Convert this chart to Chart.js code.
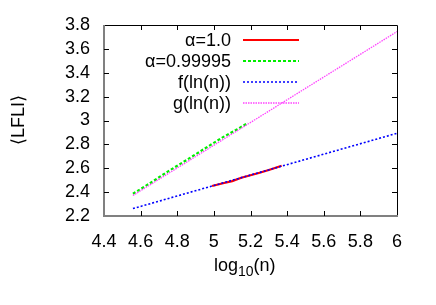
<!DOCTYPE html>
<html lang="en">
<head>
    <meta charset="UTF-8">
    <title>LFLI vs log10(n)</title>
    <script src="https://cdn.jsdelivr.net/npm/chart.js"></script>
    <style>
        body { margin: 0; background: #fff; }
        .chart-container { width: 436px; height: 305px; }
    </style>
</head>
<body>

<div class="chart-container">
    <canvas id="lfliChart" width="436" height="305"></canvas>
</div>

<script>
    // series: [log10(n), <LFLI>]
    const alpha1X = [4.99, 5.05, 5.10, 5.15, 5.20, 5.25, 5.30, 5.37];
    const alpha1Y = [2.451, 2.474, 2.492, 2.520, 2.541, 2.562, 2.585, 2.621];
    const alpha2X = [4.558, 4.65, 4.75, 4.85, 4.95, 5.05, 5.12, 5.186];
    const alpha2Y = [2.386, 2.474, 2.574, 2.668, 2.765, 2.861, 2.920, 2.979];
    const fX = [4.558, 6.0];
    const fY = [2.262, 2.893];
    const gX = [4.558, 6.0];
    const gY = [2.372, 3.745];

    const xTicks = [4.4, 4.6, 4.8, 5, 5.2, 5.4, 5.6, 5.8, 6];
    const yTicks = [2.2, 2.4, 2.6, 2.8, 3, 3.2, 3.4, 3.6, 3.8];

    const seriesLabels = ['\u03b1=1.0', '\u03b1=0.99995', 'f(ln(n))', 'g(ln(n))'];

    const FONT = '"Liberation Sans", Arial, sans-serif';
    const pts = (xs, ys) => xs.map((x, i) => ({ x, y: ys[i] }));

    const styles = [
        { color: '#ff0000', width: 2.2, dash: [] },
        { color: '#00ee00', width: 2.2, dash: [3, 2] },
        { color: '#0000ff', width: 1.6, dash: [2, 2] },
        { color: '#ff44ff', width: 1.3, dash: [1.5, 1] }
    ];

    const data = [pts(alpha1X, alpha1Y), pts(alpha2X, alpha2Y), pts(fX, fY), pts(gX, gY)];

    // frame, inward ticks, key inside the plot and axis titles
    const framePlugin = {
        id: 'frame',
        afterDatasetsDraw(chart) {
            const c = chart.ctx;
            const a = chart.chartArea;
            const xs = chart.scales.x;
            const ys = chart.scales.y;
            c.save();
            c.setLineDash([]);
            // top/right border
            c.strokeStyle = '#000';
            c.lineWidth = 1;
            c.beginPath();
            c.moveTo(a.left, a.top + 0.5);
            c.lineTo(a.right + 0.5, a.top + 0.5);
            c.lineTo(a.right + 0.5, a.bottom);
            c.stroke();
            // left/bottom border
            c.strokeStyle = '#808080';
            c.lineWidth = 2;
            c.beginPath();
            c.moveTo(a.left, a.top);
            c.lineTo(a.left, a.bottom);
            c.lineTo(a.right + 1, a.bottom);
            c.stroke();
            // ticks
            c.strokeStyle = '#000';
            c.lineWidth = 1;
            c.beginPath();
            xTicks.forEach(v => {
                const px = Math.round(xs.getPixelForValue(v)) + 0.5;
                if (v === xTicks[0] || v === xTicks[xTicks.length - 1]) return;
                c.moveTo(px, a.bottom); c.lineTo(px, a.bottom - 5);
                c.moveTo(px, a.top); c.lineTo(px, a.top + 5);
            });
            yTicks.forEach(v => {
                const py = Math.round(ys.getPixelForValue(v)) + 0.5;
                if (v === yTicks[0] || v === yTicks[yTicks.length - 1]) return;
                c.moveTo(a.left, py); c.lineTo(a.left + 5, py);
                c.moveTo(a.right, py); c.lineTo(a.right - 5, py);
            });
            c.stroke();

            // key
            c.font = '18px ' + FONT;
            c.fillStyle = '#000';
            c.textAlign = 'right';
            c.textBaseline = 'middle';
            const keyY = [40, 61, 82, 103];
            seriesLabels.forEach((lab, i) => {
                c.fillText(lab, 231, keyY[i] + 1);
                const s = styles[i];
                c.strokeStyle = s.color;
                c.lineWidth = s.width;
                c.setLineDash(s.dash);
                c.beginPath();
                c.moveTo(243, keyY[i]);
                c.lineTo(299, keyY[i]);
                c.stroke();
            });
            c.setLineDash([]);

            // y title
            c.save();
            c.translate(19, 120);
            c.rotate(-Math.PI / 2);
            c.textAlign = 'center';
            c.fillText('\u27e8LFLI\u27e9', 0, 0);
            c.restore();

            // x title with subscript
            c.textAlign = 'left';
            c.textBaseline = 'alphabetic';
            const base = 271;
            let x = 214;
            c.font = '18px ' + FONT;
            c.fillText('log', x, base);
            x += c.measureText('log').width;
            c.font = '14px ' + FONT;
            c.fillText('10', x, base + 5);
            x += c.measureText('10').width;
            c.font = '18px ' + FONT;
            c.fillText('(n)', x, base);
            c.restore();
        }
    };

    const ctx = document.getElementById('lfliChart').getContext('2d');
    new Chart(ctx, {
        type: 'scatter',
        data: {
            datasets: data.map((d, i) => ({
                label: seriesLabels[i],
                data: d,
                showLine: true,
                pointRadius: 0,
                borderColor: styles[i].color,
                borderWidth: styles[i].width,
                borderDash: styles[i].dash,
                order: 4 - i
            }))
        },
        options: {
            responsive: false,
            animation: false,
            layout: { padding: { top: 25, right: 39, left: 0, bottom: 0 } },
            plugins: { legend: { display: false }, tooltip: { enabled: false } },
            scales: {
                x: {
                    type: 'linear',
                    min: 4.4, max: 6,
                    afterBuildTicks: s => { s.ticks = xTicks.map(v => ({ value: v })); },
                    afterFit: s => { s.height = 89; },
                    grid: { display: false },
                    border: { display: false },
                    ticks: {
                        color: '#000',
                        font: { family: FONT, size: 18 },
                        padding: 7,
                        maxRotation: 0,
                        autoSkip: false,
                        callback: v => String(v)
                    }
                },
                y: {
                    min: 2.2, max: 3.8,
                    afterBuildTicks: s => { s.ticks = yTicks.map(v => ({ value: v })); },
                    afterFit: s => { s.width = 104; },
                    grid: { display: false },
                    border: { display: false },
                    ticks: {
                        color: '#000',
                        font: { family: FONT, size: 18 },
                        padding: 6,
                        autoSkip: false,
                        callback: v => String(v)
                    }
                }
            }
        },
        plugins: [framePlugin]
    });
</script>

</body>
</html>
